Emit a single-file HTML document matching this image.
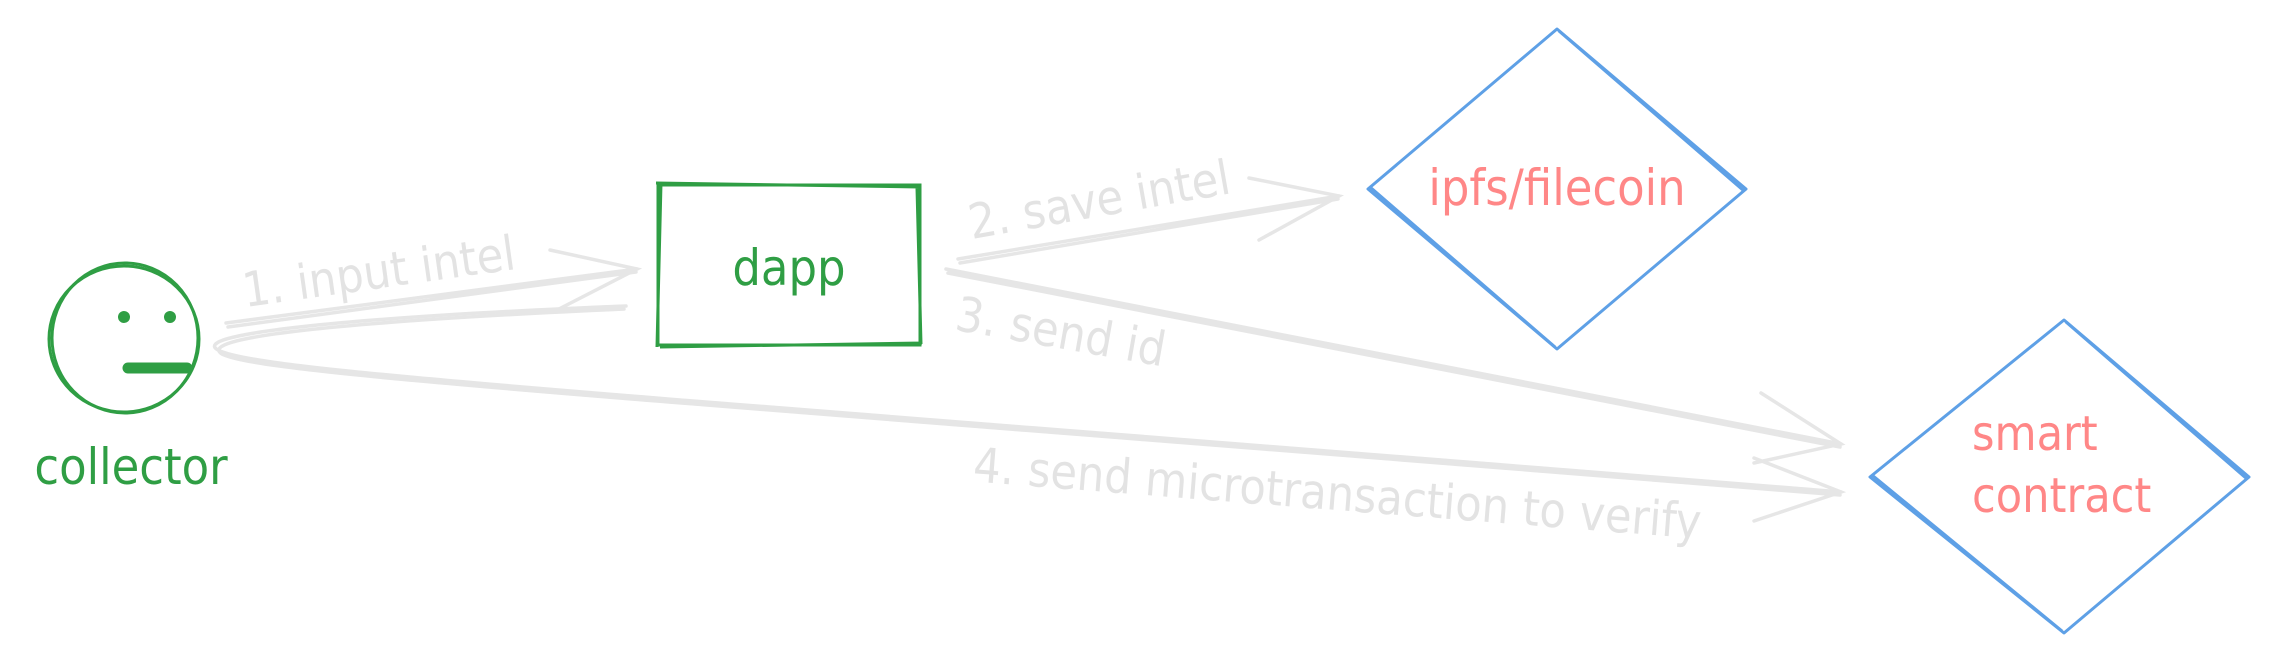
<!DOCTYPE html>
<html><head><meta charset="utf-8"><style>
html,body{margin:0;padding:0;background:#fff;}
svg{display:block;}
text{font-family:"Liberation Sans Narrow","DejaVu Sans Condensed","Liberation Sans",sans-serif;}
</style></head><body>
<svg width="2282" height="665" viewBox="0 0 2282 665" xmlns="http://www.w3.org/2000/svg">
<g fill="none" stroke="#2f9e44" stroke-width="3" stroke-linecap="round">
  <ellipse cx="124" cy="339" rx="75" ry="73"/>
  <ellipse cx="125" cy="338" rx="73" ry="75"/>
  <line x1="128" y1="368" x2="187" y2="368" stroke-width="11"/>
</g>
<circle cx="124" cy="317" r="6" fill="#2f9e44"/>
<circle cx="170" cy="317" r="6" fill="#2f9e44"/>
<text x="131" y="484" font-size="50" fill="#2f9e44" text-anchor="middle">collector</text>

<g fill="none" stroke="#2f9e44" stroke-width="3">
  <rect x="658" y="185" width="262" height="160"/>
  <path d="M656 183 L920 187 M660 347 L922 343 M661 183 L657 347 M917 188 L921 344"/>
</g>
<text x="789" y="285" font-size="50" fill="#2f9e44" text-anchor="middle">dapp</text>

<g fill="none" stroke="#5ea0e6" stroke-width="3" stroke-linejoin="round">
  <path d="M1557 29 L1746 189 L1557 349 L1368 189 Z"/>
  <path d="M1559 31 L1744 191 M1370 187 L1555 347"/>
  <path d="M2064 320 L2249 477 L2064 633 L1870 477 Z"/>
  <path d="M2066 322 L2247 479 M1872 475 L2062 631"/>
</g>
<text x="1557" y="205" font-size="50" fill="#ff8787" text-anchor="middle">ipfs/filecoin</text>
<text x="1972" y="450" font-size="48" fill="#ff8787">smart</text>
<text x="1972" y="512" font-size="48" fill="#ff8787">contract</text>

<g fill="none" stroke="#e6e6e6" stroke-width="3.5" stroke-linecap="round">
  <path d="M226 323 L637 269 M228 327 L636 272"/>
  <path d="M550 250 L637 269 L557 310"/>
  <path d="M626 306 C 330 318, 190 335, 218 350 C 260 372, 600 392, 1841 492"/>
  <path d="M624 309 C 330 322, 196 338, 222 354 C 264 375, 600 395, 1840 495"/>
  <path d="M1754 458 L1841 492 L1754 521"/>
  <path d="M958 259 L1339 196 M960 263 L1338 199"/>
  <path d="M1249 178 L1339 196 L1259 240"/>
  <path d="M946 269 L1841 444 M948 273 L1840 447"/>
  <path d="M1761 393 L1841 444 L1754 463"/>
</g>
<g fill="#e3e3e3" font-size="48">
  <text transform="translate(381,288) rotate(-8)" text-anchor="middle">1. input intel</text>
  <text transform="translate(1102,216) rotate(-10)" text-anchor="middle">2. save intel</text>
  <text transform="translate(1058,348) rotate(10)" text-anchor="middle">3. send id</text>
  <text transform="translate(1336,510) rotate(4.5)" text-anchor="middle">4. send microtransaction to verify</text>
</g>
</svg>
</body></html>
